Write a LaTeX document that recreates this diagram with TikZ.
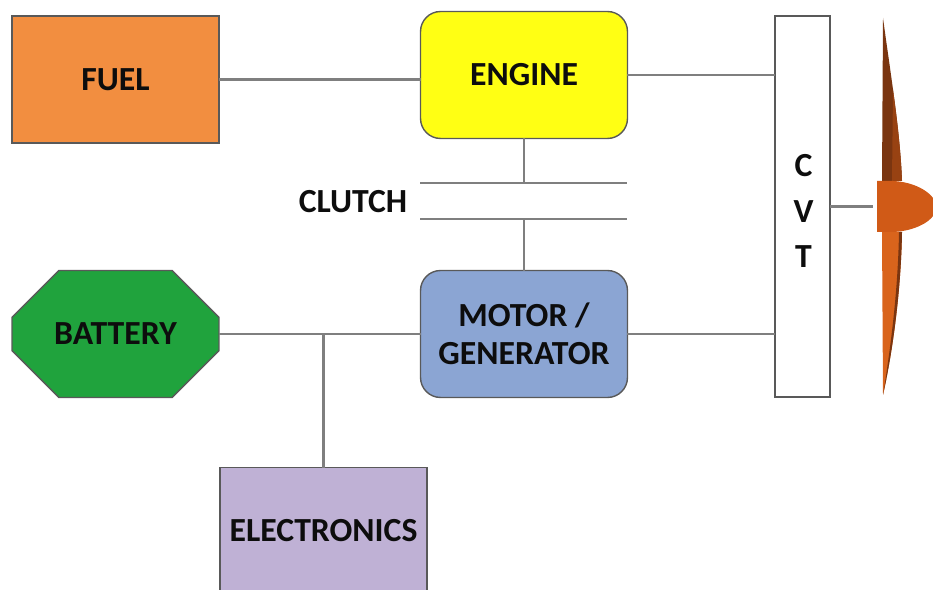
\documentclass[tikz,border=0pt]{standalone}
\usepackage{fontspec}
\setmainfont{Carlito}
\usetikzlibrary{shapes.misc}
\definecolor{fuelcol}{HTML}{F28E40}
\definecolor{enginecol}{HTML}{FFFF14}
\definecolor{motorcol}{HTML}{8BA5D3}
\definecolor{batterycol}{HTML}{20A33D}
\definecolor{elecol}{HTML}{BFB1D5}
\definecolor{linecol}{HTML}{7F7F7F}
\definecolor{edgecol}{HTML}{595959}
\definecolor{hubcol}{HTML}{D05A17}
\definecolor{bladedark}{HTML}{7A3510}
\definecolor{bladelight}{HTML}{D9641C}
\begin{document}
\begin{tikzpicture}[x=0.02cm, y=-0.02cm,
    every node/.style={font=\fontsize{19.2}{21.5}\selectfont\bfseries, text=black!95, inner sep=0pt, outer sep=0pt},
    block/.style={draw=edgecol, line width=0.8pt, minimum width=4.14cm, minimum height=2.54cm, align=center},
    roundblock/.style={block, rounded corners=0.4cm},
    wire/.style={draw=linecol, line width=1.3pt}]
  \path[use as bounding box, clip] (0,0) rectangle (933,590);
  \node[block, fill=fuelcol] (fuel) at (115.5,79.5) {FUEL};
  \node[roundblock, fill=enginecol] (engine) at (524,75) {ENGINE};
  \node[roundblock, fill=motorcol] (motor) at (524,334) {MOTOR /\\GENERATOR};
  \node[block, fill=batterycol, chamfered rectangle, chamfered rectangle xsep=0.76cm, chamfered rectangle ysep=0.72cm] (battery) at (115.5,334) {BATTERY};
  \node[block, fill=elecol] (electronics) at (323.5,531) {ELECTRONICS};
  \node[block, fill=white, minimum width=1.1cm, minimum height=7.62cm] (cvt) at (802.5,206.5) {};
  \node[align=center, font=\fontsize{19.2}{25.8}\selectfont\bfseries] (cvtlabel) at (803.5,211) {C\\V\\T};
  \node (clutch) at (353,202) {CLUTCH};
  % clutch plates
  \coordinate (plateAl) at (420,183); \coordinate (plateAr) at (627,183);
  \coordinate (plateBl) at (420,219); \coordinate (plateBr) at (627,219);
  \draw[wire] (plateAl) -- (plateAr);
  \draw[wire] (plateBl) -- (plateBr);
  \draw[wire] (engine.south) -- (engine.south |- plateAl);
  \draw[wire] (motor.north) -- (motor.north |- plateBl);
  % connectors
  \coordinate (fuelout) at (fuel.east);
  \draw[wire] (fuelout) -- (fuelout -| engine.west);
  \draw[wire] (engine.east) -- (engine.east -| cvt.west);
  \draw[wire] (motor.east) -- (motor.east -| cvt.west);
  \draw[wire] (battery.east) -- (motor.west);
  \draw[wire] (electronics.north) -- (electronics.north |- battery.east);
  \coordinate (shaft) at (873,206.5);
  \draw[wire] (cvt.east) -- (shaft);
  % propeller
  \fill[bladedark] (883,18) .. controls (890,70) and (900,130) .. (902,181) -- (882,181) -- cycle;
  \fill[hubcol!35!bladedark] (893,90) .. controls (898,125) and (901,155) .. (902,181) -- (892,181) -- cycle;
  \fill[bladelight] (882,232) -- (902,232) .. controls (901,290) and (893,350) .. (883,395) -- cycle;
  \fill[bladedark] (899,232) -- (902,232) .. controls (901,290) and (893,350) .. (883,395) .. controls (891,345) and (898,290) .. (899,232) -- cycle;
  \fill[hubcol] (877,181) -- (893,181) .. controls (915,182) and (929,192) .. (933,198) -- (933,216) .. controls (929,222) and (915,231) .. (893,232) -- (877,232) -- cycle;
\end{tikzpicture}
\end{document}
